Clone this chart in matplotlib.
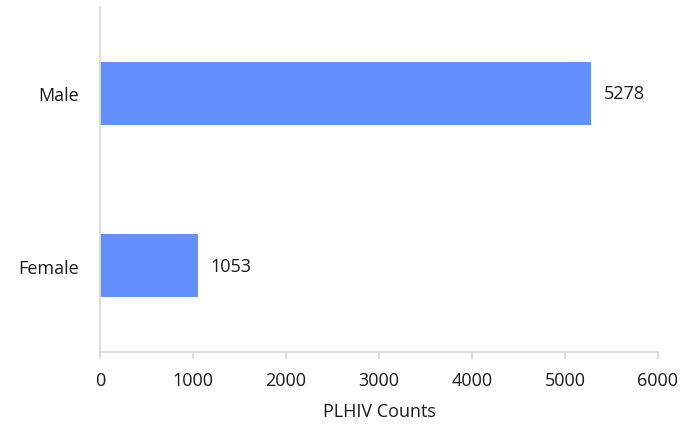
import matplotlib
matplotlib.use("Agg")
import matplotlib.pyplot as plt

categories = ["Female", "Male"]
counts = [1053, 5278]
x_ticks = [0, 1000, 2000, 3000, 4000, 5000, 6000]

BAR_COLOR = "#648fff"
AXIS_COLOR = "#d9d9d9"
TEXT_COLOR = "#1a1a1a"
FS = 13

plt.rcParams["font.family"] = ["Open Sans", "DejaVu Sans"]

fig = plt.figure(figsize=(6.92, 4.27), dpi=100)
ax = fig.add_axes([100 / 692, 74 / 427, 558 / 692, 345 / 427])

bars = ax.barh(categories, counts, height=0.365, color=BAR_COLOR)
ax.bar_label(bars, labels=[str(c) for c in counts], padding=9,
             fontsize=FS, color=TEXT_COLOR)

ax.set_xlim(0, 6000)
ax.set_ylim(-0.5, 1.5)
ax.set_xticks(x_ticks)
ax.set_xticklabels([str(t) for t in x_ticks])

for side in ["top", "right"]:
    ax.spines[side].set_visible(False)
for side in ["left", "bottom"]:
    ax.spines[side].set_color(AXIS_COLOR)
    ax.spines[side].set_linewidth(1.3)

ax.tick_params(axis="x", direction="out", length=5, width=1.3,
               color=AXIS_COLOR, labelsize=FS, labelcolor=TEXT_COLOR, pad=9)
ax.tick_params(axis="y", length=0, labelsize=FS, labelcolor=TEXT_COLOR, pad=15)

ax.set_xlabel("PLHIV Counts", fontsize=FS, color=TEXT_COLOR, labelpad=9)

fig.savefig("out.png", dpi=100)
